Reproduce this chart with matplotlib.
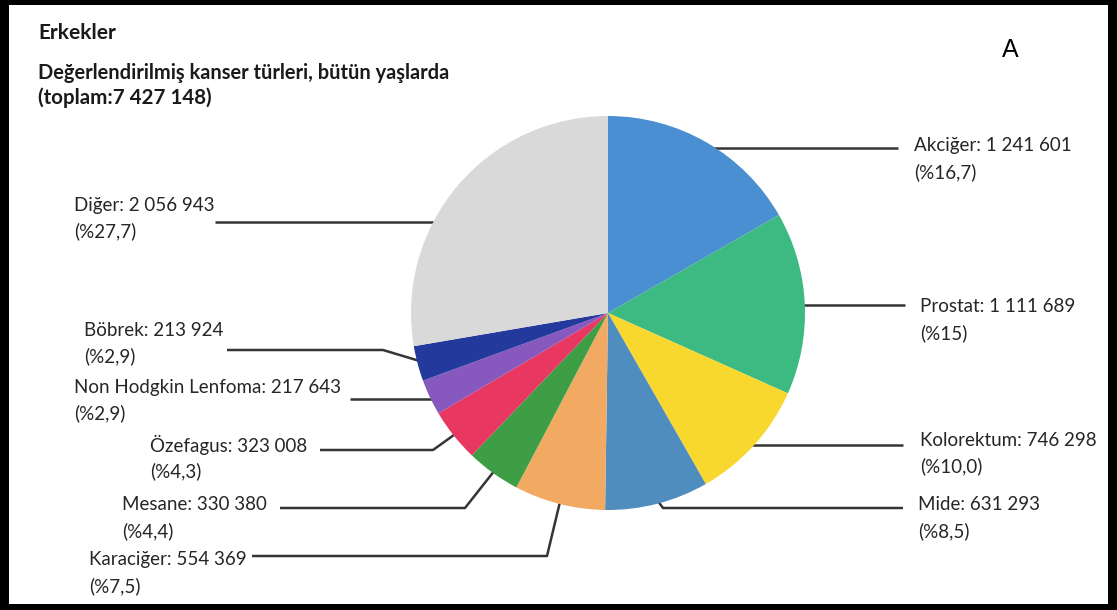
import numpy as np
import matplotlib.pyplot as plt
from matplotlib.patches import Rectangle

W, H = 1117, 610

# cancer types, men, all ages
turler = ['Akciğer', 'Prostat', 'Kolorektum', 'Mide', 'Karaciğer', 'Mesane',
          'Özefagus', 'Non Hodgkin Lenfoma', 'Böbrek', 'Diğer']
vakalar = [1241601, 1111689, 746298, 631293, 554369, 330380,
           323008, 217643, 213924, 2056943]
yuzdeler = ['16,7', '15', '10,0', '8,5', '7,5', '4,4', '4,3', '2,9', '2,9', '27,7']
toplam = 7427148

renkler = ['#4a8fd1', '#3dba82', '#f8d82f', '#4f8dbf', '#f2aa62', '#3d9e45',
           '#e83760', '#8758bd', '#23399b', '#d9d9da']

# pie geometry in pixels (y measured from the top)
cx, cy, R = 608, 313, 197

# label position (x left, y of first line) and leader waypoints from the label side
etiket_yer = {
    'Akciğer': (914, 146), 'Prostat': (920, 307), 'Kolorektum': (920, 440),
    'Mide': (918, 505), 'Karaciğer': (89, 560), 'Mesane': (122, 505),
    'Özefagus': (150, 445), 'Non Hodgkin Lenfoma': (74, 387),
    'Böbrek': (84, 330), 'Diğer': (74, 205),
}
cizgi = {
    'Akciğer': ([(898, 148)], 'yatay'),
    'Prostat': ([(905, 305)], 'yatay'),
    'Kolorektum': ([(903, 445)], 'yatay'),
    'Mide': ([(903, 508), (663, 508)], 'orta'),
    'Karaciğer': ([(252, 556), (547, 556)], 'orta'),
    'Mesane': ([(280, 508), (465, 508)], 'orta'),
    'Özefagus': ([(320, 450), (433, 450)], 'orta'),
    'Non Hodgkin Lenfoma': ([(350, 399)], 'yatay'),
    'Böbrek': ([(227, 350), (383, 350)], 'orta'),
    'Diğer': ([(215, 222)], 'yatay'),
}


def py(y):
    return H - y


fig = plt.figure(figsize=(W / 100, H / 100), dpi=100)
ax = fig.add_axes([0, 0, 1, 1])

wedges, _ = ax.pie(vakalar, colors=renkler, startangle=90, counterclock=False,
                   center=(cx, py(cy)), radius=R,
                   wedgeprops=dict(linewidth=0, zorder=3))
ax.set_xlim(0, W)
ax.set_ylim(0, H)
ax.set_axis_off()

font = ['Lato', 'DejaVu Sans']
yazi_renk = '#262626'

for w, ad, n, p in zip(wedges, turler, vakalar, yuzdeler):
    pts, tip = cizgi[ad]
    pts = [(x, py(y)) for x, y in pts]
    lx, ly = pts[-1]
    if tip == 'yatay':
        dy = ly - py(cy)
        dx = np.sqrt(R ** 2 - dy ** 2) - 4
        pts.append((cx + dx if lx > cx else cx - dx, ly))
    else:
        a = np.deg2rad((w.theta1 + w.theta2) / 2)
        pts.append((cx + 0.97 * R * np.cos(a), py(cy) + 0.97 * R * np.sin(a)))
    xs, ys = zip(*pts)
    ax.plot(xs, ys, color='#353535', lw=1.8, zorder=2, solid_capstyle='butt')

    tx, ty = etiket_yer[ad]
    sayi = f'{n:,}'.replace(',', ' ')
    ax.text(tx, py(ty), f'{ad}: {sayi}', fontsize=13.5, family=font,
            color=yazi_renk, va='center', ha='left')
    ax.text(tx, py(ty + 26), f'(%{p})', fontsize=13.5, family=font,
            color=yazi_renk, va='center', ha='left')

# headings
toplam_str = f'{toplam:,}'.replace(',', ' ')
ax.text(38, py(33), 'Erkekler', fontsize=15, weight='bold', family=font,
        color='#1a1a1a', va='center')
ax.text(38, py(73), 'Değerlendirilmiş kanser türleri, bütün yaşlarda', fontsize=14.4,
        weight='bold', family=font, color='#1a1a1a', va='center')
ax.text(38, py(98), f'(toplam:{toplam_str})', fontsize=14.8, weight='bold',
        family=font, color='#1a1a1a', va='center')
ax.text(1010, py(50), 'A', fontsize=18, family=['Liberation Sans', 'DejaVu Sans'],
        color='black', va='center', ha='center')

# black frame
for x0, y0, w_, h_ in [(0, 0, 9, H), (W - 9, 0, 9, H), (0, 0, W, 6), (0, H - 5, W, 5)]:
    fig.patches.append(Rectangle((x0 / W, y0 / H), w_ / W, h_ / H, transform=fig.transFigure,
                                 facecolor='black', edgecolor='none', zorder=10))

fig.savefig('out.png', dpi=100)
